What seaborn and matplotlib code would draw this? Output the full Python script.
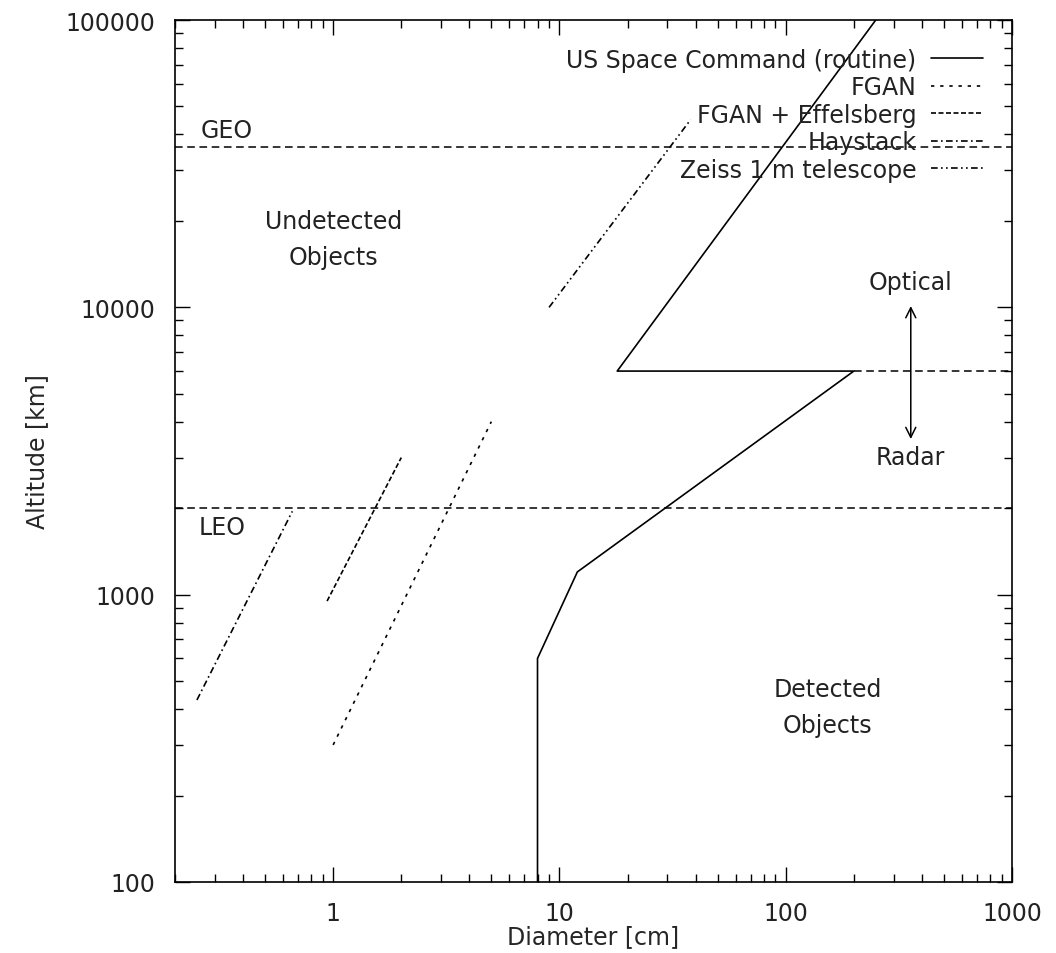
import matplotlib
matplotlib.use("Agg")
import matplotlib.pyplot as plt
from matplotlib.ticker import LogLocator, FuncFormatter, NullFormatter
import seaborn as sns

# detection limits, diameter [cm] vs altitude [km]
us_diam = [8, 8, 12, 200, 18, 250]
us_alt = [100, 600, 1200, 6000, 6000, 100000]

fgan_diam = [1.0, 5.0]
fgan_alt = [300, 4000]

effelsberg_diam = [0.94, 2.0]
effelsberg_alt = [950, 3000]

haystack_diam = [0.25, 0.66]
haystack_alt = [430, 1950]

zeiss_diam = [9, 38]
zeiss_alt = [10000, 45000]

# optical/radar boundary continues past the US curve
boundary_diam = [200, 1000]
boundary_alt = [6000, 6000]

GEO_ALT = 36000
LEO_ALT = 2000

series = [
    ("US Space Command (routine)", us_diam, us_alt, "-"),
    ("FGAN", fgan_diam, fgan_alt, (0, (2, 3.5))),
    ("FGAN + Effelsberg", effelsberg_diam, effelsberg_alt, (0, (3, 1.5))),
    ("Haystack", haystack_diam, haystack_alt, (0, (4, 2, 1, 2))),
    ("Zeiss 1 m telescope", zeiss_diam, zeiss_alt, (0, (4, 2, 1, 2, 1, 2))),
]

sns.set_theme(style="ticks")
plt.rcParams["font.family"] = ["DejaVu Sans"]
plt.rcParams["text.color"] = "#222222"

fig = plt.figure(figsize=(10.56, 9.54), dpi=100)
ax = fig.add_axes([175 / 1056, 71 / 954, 837 / 1056, 862 / 954])
ax.set_xscale("log")
ax.set_yscale("log")

for label, d, a, ls in series:
    sns.lineplot(x=d, y=a, ax=ax, sort=False, estimator=None, color="black",
                 lw=1.2, linestyle=ls, label=label)

dash = (0, (5, 3))
sns.lineplot(x=boundary_diam, y=boundary_alt, ax=ax, sort=False, estimator=None,
             color="black", lw=1.1, linestyle=dash, label="_nolegend_")
ax.axhline(GEO_ALT, color="black", lw=1.1, linestyle=dash)
ax.axhline(LEO_ALT, color="black", lw=1.1, linestyle=dash)

ax.set_xlim(0.2, 1000)
ax.set_ylim(100, 100000)

fs = 17
ax.text(0.26, 37500, "GEO", fontsize=fs, ha="left", va="bottom")
ax.text(0.255, 1720, "LEO", fontsize=fs, ha="left", va="center")
ax.text(1.0, 17300, "Undetected\nObjects", fontsize=fs, ha="center", va="center",
        linespacing=1.65)
ax.text(153, 406, "Detected\nObjects", fontsize=fs, ha="center", va="center",
        linespacing=1.65)
ax.text(357, 12250, "Optical", fontsize=fs, ha="center", va="center")
ax.text(357, 3010, "Radar", fontsize=fs, ha="center", va="center")
ax.annotate("", xy=(357, 10100), xytext=(357, 3480),
            arrowprops=dict(arrowstyle="<->", color="black", lw=1.1,
                            mutation_scale=18, shrinkA=0, shrinkB=0))

ax.set_xlabel("Diameter [cm]", fontsize=fs, va="center")
ax.set_ylabel("Altitude [km]", fontsize=fs, va="center")
ax.xaxis.set_label_coords(0.5, -0.063)
ax.yaxis.set_label_coords(-0.165, 0.5)

ax.xaxis.set_major_locator(LogLocator(base=10, subs=(1.0,)))
ax.xaxis.set_minor_locator(LogLocator(base=10, subs=range(2, 10)))
ax.yaxis.set_major_locator(LogLocator(base=10, subs=(1.0,)))
ax.yaxis.set_minor_locator(LogLocator(base=10, subs=range(2, 10)))
ax.xaxis.set_major_formatter(FuncFormatter(lambda v, p: f"{v:.0f}"))
ax.yaxis.set_major_formatter(FuncFormatter(lambda v, p: f"{v:.0f}"))
ax.xaxis.set_minor_formatter(NullFormatter())
ax.yaxis.set_minor_formatter(NullFormatter())
ax.tick_params(which="both", direction="in", top=True, right=True,
               colors="black", labelcolor="#222222", width=1.0)
ax.tick_params(which="major", length=11, labelsize=17, pad=14)
ax.tick_params(which="minor", length=5.5)
for s in ax.spines.values():
    s.set_linewidth(1.2)
    s.set_color("black")

ax.legend(loc="upper right", bbox_to_anchor=(0.965, 0.968), frameon=False,
          markerfirst=False, fontsize=17, handlelength=2.2, handletextpad=0.6,
          labelspacing=0.15, borderaxespad=0, borderpad=0)

fig.savefig("out.png", dpi=100, facecolor="white")
